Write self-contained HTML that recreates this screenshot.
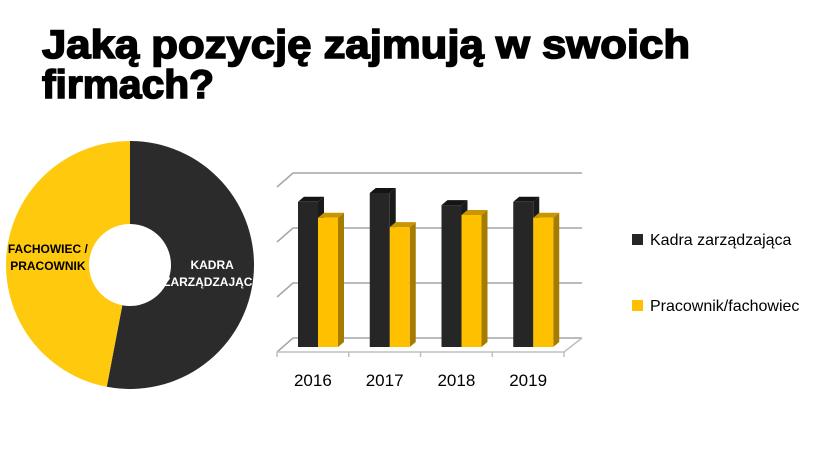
<!DOCTYPE html>
<html><head><meta charset="utf-8"><style>
html,body{margin:0;padding:0;background:#fff;width:840px;height:473px;overflow:hidden}
svg{display:block;font-family:"Liberation Sans",sans-serif}
</style></head><body>
<svg id="chart" width="840" height="473" viewBox="0 0 840 473">
<text x="42" y="58" font-size="40" font-weight="900" stroke="#000" stroke-width="1.6" textLength="648" lengthAdjust="spacingAndGlyphs">Jaką pozycję zajmują w swoich</text>
<text x="42" y="98" font-size="40" font-weight="900" stroke="#000" stroke-width="1.6" textLength="172" lengthAdjust="spacingAndGlyphs">firmach?</text>
<g id="donut"></g>
<g id="bars"></g>
<rect x="632" y="234" width="11" height="11" fill="#262626"/>
<text x="650" y="245" font-size="16" fill="#000">Kadra zarządzająca</text>
<rect x="632" y="300" width="11" height="11" fill="#ffc000"/>
<text x="650" y="311" font-size="16" fill="#000">Pracownik/fachowiec</text>
</svg>
<script>
const pieLabels=["KADRA ZARZĄDZAJĄCA","FACHOWIEC / PRACOWNIK"];
const pieValues=[53,47];
const years=["2016","2017","2018","2019"];
const kadra=[2.64,2.8,2.58,2.64];
const pracownik=[2.35,2.18,2.4,2.35];
const NS="http://www.w3.org/2000/svg";
function mk(t,a,p){const e=document.createElementNS(NS,t);for(const k in a)e.setAttribute(k,a[k]);p.appendChild(e);return e;}
// donut
const dg=document.getElementById('donut');
const cx=130,cy=265,R=124,r=41;
const tot=pieValues.reduce((a,b)=>a+b,0);
const cols=["#2b2b2b","#ffc90e"];
let a0=0;
pieValues.forEach((v,i)=>{
  const a1=a0+v/tot*2*Math.PI;
  const P=(rad,a)=>[cx+rad*Math.sin(a),cy-rad*Math.cos(a)];
  const large=(a1-a0)>Math.PI?1:0;
  const [x1,y1]=P(R,a0),[x2,y2]=P(R,a1),[x3,y3]=P(r,a1),[x4,y4]=P(r,a0);
  const p=mk('path',{d:`M${x1},${y1}A${R},${R} 0 ${large} 1 ${x2},${y2}L${x3},${y3}A${r},${r} 0 ${large} 0 ${x4},${y4}Z`,fill:cols[i]},dg);
  
  
  const am=(a0+a1)/2,lr=(R+r)/2;
  const lx=cx+lr*Math.sin(am),ly=cy-lr*Math.cos(am);
  const words=pieLabels[i].split(' ');
  const lines=words.length>2?[words[0]+' '+words[1],words[2]]:words;
  lines.forEach((ln,j)=>{
    const t=mk('text',{x:lx,y:ly-4+j*17,'text-anchor':'middle','font-size':'12','font-weight':'bold',fill:i===0?'#fff':'#000'},dg);
    t.textContent=ln;
    
    
  });
  a0=a1;
});
// bars
const bg=document.getElementById('bars');
const fx0=277,fx1=564,floorY=347,dx=16,dy=9,unit=55;
const yv=v=>floorY-v*unit;
// back gridlines
[0,1,2,3].forEach(k=>{
  const y=floorY-9-k*unit+ (k===0?0:0);
  const g=mk('polyline',{points:`${fx0},${y+dy+5} ${fx0+dx},${y} ${fx1+dx+2},${y}`,fill:'none',stroke:'#a6a6a6','stroke-width':'1.5'},bg);
  
  
});
const fl=mk('polyline',{points:`${fx0},${floorY+5} ${fx1},${floorY+5} ${fx1+dx+2},${floorY-9}`,fill:'none',stroke:'#bfbfbf','stroke-width':'1.5'},bg);


const step=(fx1-fx0)/years.length;
for(let i=0;i<=years.length;i++){
  const tk=mk('line',{x1:fx0+i*step,y1:floorY+5,x2:fx0+i*step,y2:floorY+10,stroke:'#bfbfbf','stroke-width':'1.5'},bg);
  
  
}
function bar3d(x,v,front,top,side,name){
  const y=yv(v),w=20,d=6,h=5;
  const g=mk('g',{},bg);
  
  
  mk('polygon',{points:`${x+w},${y} ${x+w+d},${y-h} ${x+w+d},${floorY-h} ${x+w},${floorY}`,fill:side},g);
  mk('polygon',{points:`${x},${y} ${x+d},${y-h} ${x+w+d},${y-h} ${x+w},${y}`,fill:top},g);
  mk('rect',{x:x,y:y,width:w,height:floorY-y,fill:front},g);
}
years.forEach((yr,i)=>{
  const gx=fx0+i*step+21;
  bar3d(gx,kadra[i],'#262626','#141414','#1a1a1a','bar-kadra-'+yr);
  bar3d(gx+20,pracownik[i],'#ffc000','#c79600','#a67c00','bar-pracownik-'+yr);
  const t=mk('text',{x:fx0+i*step+step/2,y:386,'text-anchor':'middle','font-size':'17',fill:'#000'},bg);
  t.textContent=yr;
  
  
});
</script>
</body></html>
